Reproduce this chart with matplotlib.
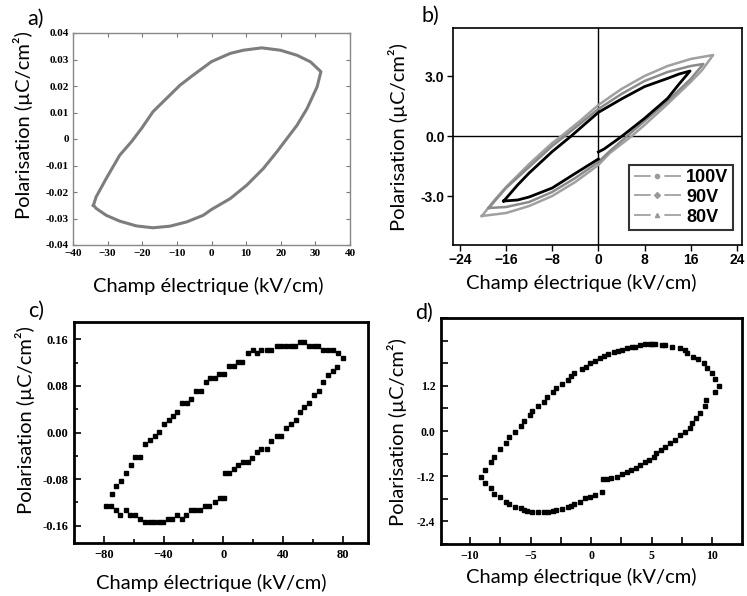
import matplotlib
matplotlib.use("Agg")
import matplotlib.pyplot as plt
from matplotlib.lines import Line2D
from matplotlib.ticker import MultipleLocator

# a) boucle P-E (courbe grise continue)
a_champ = [-34.1, -33.3, -30.4, -26.5, -23.1, -20.2, -16.9, -13.0, -9.1, -5.3, 0.0, 5.4, 9.2,
           14.5, 19.9, 24.7, 28.6, 31.6, 30.5, 27.6, 24.7, 21.8, 18.9, 15.0, 10.2, 5.4, 0.0,
           -2.4, -7.2, -12.0, -16.9, -21.7, -26.5, -30.4, -33.3, -34.1]
a_pol = [-0.0250, -0.0218, -0.0149, -0.0061, -0.0010, 0.0040, 0.0103, 0.0153, 0.0203, 0.0241,
         0.0292, 0.0323, 0.0335, 0.0344, 0.0335, 0.0316, 0.0291, 0.0254, 0.0197, 0.0115, 0.0052,
         0.0002, -0.0048, -0.0111, -0.0174, -0.0225, -0.0266, -0.0288, -0.0313, -0.0329, -0.0335,
         -0.0328, -0.0310, -0.0288, -0.0262, -0.0250]

# b) trois tensions
b100_champ = [-20.2, -18, -16, -12, -8, -6.4, -3, 0, 4, 8, 12, 16, 19.9,
              18, 16, 12, 8, 5.8, 2, 0, -4, -8, -12, -16, -20.2]
b100_pol = [-4.0, -3.2, -2.55, -1.4, -0.35, 0.0, 0.8, 1.55, 2.35, 3.0, 3.5, 3.85, 4.05,
            3.3, 2.7, 1.6, 0.55, 0.0, -0.85, -1.45, -2.3, -3.0, -3.5, -3.85, -4.0]
b90_champ = [-19, -16, -12, -8, -5.8, -3, 0, 4, 8, 12, 16, 18.2,
             16, 12, 8, 5, 2, 0, -4, -8, -12, -16, -19]
b90_pol = [-3.6, -2.6, -1.55, -0.5, 0.0, 0.65, 1.35, 2.1, 2.75, 3.2, 3.5, 3.6,
           2.85, 1.75, 0.75, 0.0, -0.75, -1.3, -2.1, -2.8, -3.3, -3.55, -3.6]
b80_champ = [-16.4, -14, -12, -8, -4.7, -2, 0, 4, 8, 12, 14, 15.9,
             14, 12, 8, 4, 1, 0, float("nan"), 0, -4, -8, -12, -14, -16.4]
b80_pol = [-3.25, -2.45, -1.85, -0.78, 0.0, 0.68, 1.18, 1.85, 2.47, 2.88, 3.1, 3.25,
           2.6, 1.88, 0.88, -0.03, -0.65, -0.8, float("nan"), -1.15, -1.87, -2.6, -3.05, -3.2, -3.25]
b_labels = ["100V", "90V", "80V"]

# c) points
c_champ = [-78.4, -75.5, -71.7, -69.0, -65.4, -62.3, -59.4, -55.7, -52.2, -49.3, -46.4, -43.3,
           -40.4, -37.0, -34.1, -30.7, -27.6, -24.7, -21.8, -18.6, -15.8, -12.4, -9.5, -5.7, -2.3, 0.6,
           1.0, 3.9, 7.0, 10.0, 13.3, 16.7, 19.6, 22.7, 25.6, 29.0, 32.3, 35.7, 38.6, 41.9, 45.3,
           48.7, 51.3, 54.3, 57.6, 61.0, 64.1, 67.0, 70.4, 73.7, 76.4, 80.0,
           77.1, 73.7, 70.4, 67.0, 63.6, 60.7, 57.6, 54.3, 51.3, 48.0, 45.3, 41.9, 38.6, 35.7, 32.3,
           29.0, 25.6, 22.9, 20.0, 16.7, 12.9, 10.0, 7.0, 3.9, 0.6, -2.8, -5.5, -8.6, -11.3, -14.7,
           -18.0, -21.4, -24.3, -27.6, -30.8, -33.7, -36.6, -39.7, -43.1, -46.0, -49.3, -52.7, -56.0,
           -58.9, -62.1, -65.4, -68.3, -71.7, -74.6]
c_pol = [-0.127, -0.127, -0.134, -0.141, -0.134, -0.141, -0.141, -0.148, -0.154, -0.154, -0.154,
         -0.154, -0.154, -0.148, -0.148, -0.141, -0.148, -0.141, -0.134, -0.134, -0.134, -0.127,
         -0.127, -0.120, -0.113, -0.113,
         -0.070, -0.070, -0.063, -0.056, -0.050, -0.050, -0.043, -0.034, -0.028, -0.028, -0.014,
         -0.006, -0.006, 0.007, 0.014, 0.022, 0.036, 0.043, 0.050, 0.064, 0.072, 0.086, 0.099,
         0.106, 0.113, 0.128,
         0.136, 0.142, 0.142, 0.142, 0.149, 0.149, 0.149, 0.156, 0.156, 0.149, 0.149, 0.149, 0.149,
         0.149, 0.142, 0.142, 0.142, 0.136, 0.142, 0.136, 0.121, 0.121, 0.115, 0.115, 0.100, 0.100,
         0.093, 0.093, 0.086, 0.072, 0.072, 0.057, 0.050, 0.050, 0.036, 0.029, 0.022, 0.014, 0.001,
         -0.006, -0.013, -0.020, -0.042, -0.042, -0.056, -0.070, -0.084, -0.092, -0.106]

# d) points
d_champ = [-9.06, -8.79, -8.29, -8.04, -7.55, -7.05, -6.80, -6.31, -5.81, -5.56, -5.07, -4.85,
           -4.38, -3.88, -3.64, -3.14, -2.87, -2.40, -1.90, -1.63, -1.43, -0.80, -0.39, -0.08, 0.33,
           0.74, 1.02, 1.38, 1.85, 2.18, 2.53, 2.95, 3.36, 3.64, 3.99, 4.41, 4.88, 5.01, 5.29, 5.84,
           6.12, 6.67, 7.36, 7.71, 7.91, 8.37, 8.82, 9.28, 9.56, 9.97, 10.25, 10.52,
           10.25, 9.48, 9.42, 9.01, 8.68, 8.32, 8.13, 7.71, 7.36, 6.94, 6.53, 6.12, 5.79, 5.37, 5.15,
           4.74, 4.46, 4.05, 3.69, 3.31, 2.95, 2.53, 2.12, 1.65, 1.30, 0.94, 0.88, 0.28, -0.08, -0.50,
           -0.94, -1.43, -1.63, -1.90, -2.40, -2.87, -3.14, -3.55, -3.88, -4.38, -4.85, -5.34, -5.56,
           -5.81, -6.31, -6.80, -7.05, -7.55, -8.04, -8.29, -8.79]
d_pol = [-1.215, -1.037, -0.833, -0.683, -0.488, -0.328, -0.168, -0.018, 0.133, 0.266, 0.426,
         0.532, 0.674, 0.780, 0.913, 1.046, 1.152, 1.241, 1.356, 1.472, 1.551, 1.649, 1.711, 1.800,
         1.862, 1.950, 2.003, 2.039, 2.092, 2.128, 2.163, 2.199, 2.234, 2.243, 2.287, 2.305, 2.305,
         2.305, 2.305, 2.287, 2.270, 2.243, 2.199, 2.154, 2.066, 1.977, 1.915, 1.800, 1.667, 1.534,
         1.383, 1.206,
         1.028, 0.824, 0.674, 0.488, 0.337, 0.204, 0.089, -0.018, -0.106, -0.239, -0.328, -0.417,
         -0.505, -0.594, -0.683, -0.771, -0.816, -0.904, -0.975, -1.037, -1.082, -1.152, -1.215,
         -1.241, -1.285, -1.285, -1.613, -1.702, -1.746, -1.773, -1.897, -1.941, -1.986, -2.030,
         -2.074, -2.101, -2.128, -2.145, -2.145, -2.145, -2.145, -2.119, -2.101, -2.057, -2.012,
         -1.941, -1.879, -1.764, -1.676, -1.525, -1.374]

xlabel = "Champ électrique (kV/cm)"
ylabel = "Polarisation (µC/cm²)"

W, H = 747, 596
fig = plt.figure(figsize=(W / 100, H / 100), dpi=100)


def axes_px(left, top, right, bottom):
    return fig.add_axes([left / W, 1 - bottom / H, (right - left) / W, (bottom - top) / H])


def text_px(x, y, s, **kw):
    fig.text(x / W, 1 - y / H, s, ha="center", va="center", family="Lato", **kw)


def bold_ticks(ax, family):
    for lab in ax.get_xticklabels() + ax.get_yticklabels():
        lab.set_fontfamily(family)
        lab.set_fontweight("bold")


# ---- a)
ax = axes_px(73, 33, 350, 245)
ax.plot(a_champ, a_pol, color="#7d7d7d", lw=2.2)
ax.set_xlim(-40, 40)
ax.set_ylim(-0.04, 0.04)
ax.set_xticks(range(-40, 41, 10))
ax.set_yticks([i / 100 for i in range(-4, 5)])
ax.set_yticklabels(["-0.04", "-0.03", "-0.02", "-0.01", "0", "0.01", "0.02", "0.03", "0.04"])
ax.tick_params(direction="in", length=3, width=0.8, top=True, right=True, labelsize=8,
               color="#777777", pad=3)
bold_ticks(ax, "Liberation Serif")
for s in ax.spines.values():
    s.set_color("#888888")
    s.set_linewidth(1.0)

# ---- b)
ax = axes_px(453, 28, 742, 245)
ax.axhline(0, color="black", lw=1)
ax.axvline(0, color="black", lw=1)
ax.plot(b100_champ, b100_pol, color="#a0a0a0", lw=1.8)
ax.plot(b90_champ, b90_pol, color="#8a8a8a", lw=1.8)
ax.plot(b80_champ, b80_pol, color="black", lw=2.0)
ax.set_xlim(-25.2, 24.9)
ax.set_ylim(-5.45, 5.4)
ax.set_xticks(range(-24, 25, 8))
ax.set_yticks([-3, 0, 3])
ax.set_yticklabels(["-3.0", "0.0", "3.0"])
ax.tick_params(direction="out", length=4, width=1, labelsize=10, pad=2)
bold_ticks(ax, "Liberation Sans")
for s in ax.spines.values():
    s.set_linewidth(1.2)
handles = [Line2D([], [], color="#9a9a9a", lw=1.2, ls=(0, (10, 8.2)), marker=m, ms=3,
                  mfc="#9a9a9a", mec="#9a9a9a") for m in ["o", "D", "^"]]
leg = ax.legend(handles, b_labels, loc="lower right", bbox_to_anchor=(0.969, 0.069),
                borderaxespad=0, handlelength=2.6, handletextpad=0.3, labelspacing=0.15,
                borderpad=0.25, fancybox=False, numpoints=1,
                prop=dict(family="Liberation Sans", weight="bold", size=13))
leg.get_frame().set_edgecolor("black")
leg.get_frame().set_linewidth(1.5)

# ---- c)
ax = axes_px(74, 322, 368, 543)
ax.plot(c_champ, c_pol, ls="none", marker="s", ms=3.2, color="black")
ax.set_xlim(-100, 97)
ax.set_ylim(-0.19, 0.19)
ax.set_xticks([-80, -40, 0, 40, 80])
ax.set_yticks([-0.16, -0.08, 0, 0.08, 0.16])
ax.set_yticklabels(["-0.16", "-0.08", "0.00", "0.08", "0.16"])
ax.xaxis.set_minor_locator(MultipleLocator(20))
ax.yaxis.set_minor_locator(MultipleLocator(0.04))
ax.tick_params(which="major", direction="in", length=5, width=1.2, labelsize=9, pad=4)
ax.tick_params(which="minor", direction="in", length=3, width=1.2)
bold_ticks(ax, "Liberation Serif")
for s in ax.spines.values():
    s.set_linewidth(2)

# ---- d)
ax = axes_px(441, 318, 742, 544)
ax.plot(d_champ, d_pol, ls="none", marker="s", ms=3.4, color="black")
ax.set_xlim(-12.4, 12.45)
ax.set_ylim(-3.0, 3.0)
ax.set_xticks([-10, -5, 0, 5, 10])
ax.set_yticks([-2.4, -1.2, 0, 1.2, 2.4])
ax.set_yticklabels(["-2.4", "-1.2", "0.0", "1.2", ""])
ax.xaxis.set_minor_locator(MultipleLocator(2.5))
ax.yaxis.set_minor_locator(MultipleLocator(0.6))
ax.tick_params(which="both", direction="in", length=5, width=1.2, labelsize=8.5, pad=4)
bold_ticks(ax, "Liberation Serif")
for s in ax.spines.values():
    s.set_linewidth(2)

# axis titles and panel letters
lab_size = 14.5
text_px(208, 286, xlabel, size=lab_size)
text_px(23, 125, ylabel, size=lab_size, rotation=90)
text_px(581, 283, xlabel, size=lab_size)
text_px(398, 137, ylabel, size=lab_size, rotation=90)
text_px(211, 583, xlabel, size=lab_size)
text_px(25, 420, ylabel, size=lab_size, rotation=90)
text_px(581, 577, xlabel, size=lab_size)
text_px(397, 432, ylabel, size=lab_size, rotation=90)

for x, y, s in [(35, 19, "a)"), (430, 16, "b)"), (36, 311, "c)"), (424, 313, "d)")]:
    text_px(x, y, s, size=15.5)

fig.savefig("out.png", dpi=100)
